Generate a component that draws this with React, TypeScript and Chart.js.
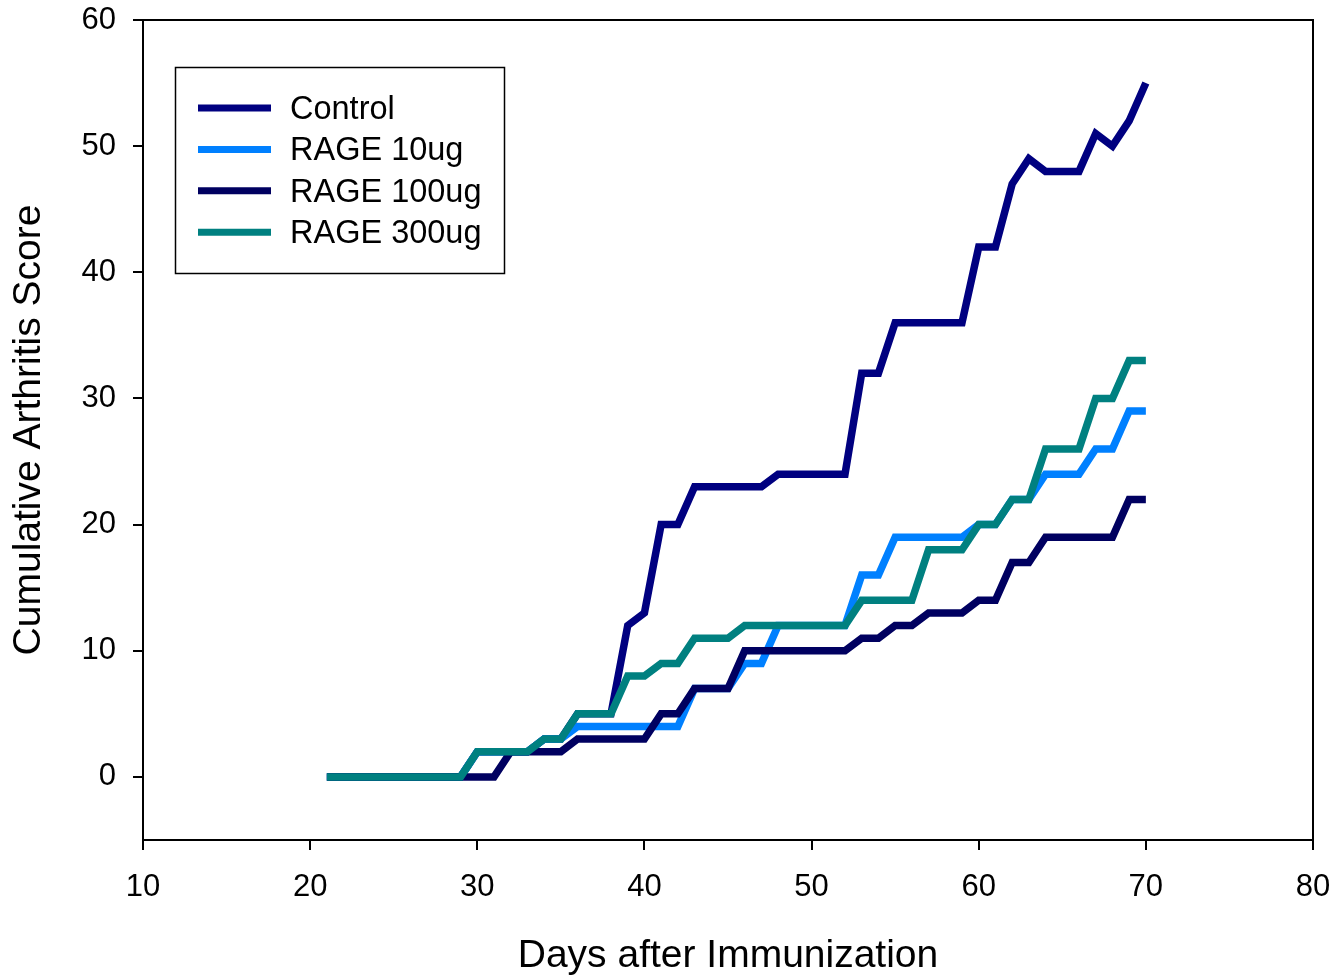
import React, { useEffect, useRef } from "react";
import { Chart, registerables } from "chart.js";

Chart.register(...registerables);

const days = [
  21, 22, 23, 24, 25, 26, 27, 28, 29, 30,
  31, 32, 33, 34, 35, 36, 37, 38, 39, 40,
  41, 42, 43, 44, 45, 46, 47, 48, 49, 50,
  51, 52, 53, 54, 55, 56, 57, 58, 59, 60,
  61, 62, 63, 64, 65, 66, 67, 68, 69, 70,
];

const control = [
  0, 0, 0, 0, 0, 0, 0, 0, 0, 2,
  2, 2, 2, 3, 3, 5, 5, 5, 12, 13,
  20, 20, 23, 23, 23, 23, 23, 24, 24, 24,
  24, 24, 32, 32, 36, 36, 36, 36, 36, 42,
  42, 47, 49, 48, 48, 48, 51, 50, 52, 55,
];

const rage10 = [
  0, 0, 0, 0, 0, 0, 0, 0, 0, 2,
  2, 2, 2, 3, 3, 4, 4, 4, 4, 4,
  4, 4, 7, 7, 7, 9, 9, 12, 12, 12,
  12, 12, 16, 16, 19, 19, 19, 19, 19, 20,
  20, 22, 22, 24, 24, 24, 26, 26, 29, 29,
];

const rage100 = [
  0, 0, 0, 0, 0, 0, 0, 0, 0, 0,
  0, 2, 2, 2, 2, 3, 3, 3, 3, 3,
  5, 5, 7, 7, 7, 10, 10, 10, 10, 10,
  10, 10, 11, 11, 12, 12, 13, 13, 13, 14,
  14, 17, 17, 19, 19, 19, 19, 19, 22, 22,
];

const rage300 = [
  0, 0, 0, 0, 0, 0, 0, 0, 0, 2,
  2, 2, 2, 3, 3, 5, 5, 5, 8, 8,
  9, 9, 11, 11, 11, 12, 12, 12, 12, 12,
  12, 12, 14, 14, 14, 14, 18, 18, 18, 20,
  20, 22, 22, 26, 26, 26, 30, 30, 33, 33,
];

const seriesLabels = ["Control", "RAGE 10ug", "RAGE 100ug", "RAGE 300ug"];
const seriesColors = ["#000080", "#0080FF", "#000060", "#008080"];
const seriesValues = [control, rage10, rage100, rage300];

const xTickValues = [10, 20, 30, 40, 50, 60, 70, 80];
const yTickValues = [0, 10, 20, 30, 40, 50, 60];

const xTitle = "Days after Immunization";
const yTitle = "Cumulative Arthritis Score";

const FONT = "'Liberation Sans', Arial, Helvetica, sans-serif";

const framePlugin = {
  id: "frameLines",
  afterDraw(chart: any) {
    const { ctx } = chart;
    const { left, right, top, bottom } = chart.chartArea;
    ctx.save();
    ctx.strokeStyle = "#000";
    ctx.lineWidth = 2;
    ctx.beginPath();
    ctx.moveTo(left - 1, top);
    ctx.lineTo(right, top);
    ctx.lineTo(right, bottom);
    ctx.stroke();
    ctx.restore();
  },
};

const legendPlugin = {
  id: "boxLegend",
  afterDraw(chart: any) {
    const { ctx } = chart;
    ctx.save();
    ctx.strokeStyle = "#000";
    ctx.lineWidth = 1.5;
    ctx.strokeRect(175.5, 67.5, 329, 206);
    chart.data.datasets.forEach((ds: any, i: number) => {
      const y = 108 + i * 41.4;
      ctx.strokeStyle = ds.borderColor;
      ctx.lineWidth = 7;
      ctx.lineCap = "butt";
      ctx.beginPath();
      ctx.moveTo(198, y);
      ctx.lineTo(271, y);
      ctx.stroke();
      ctx.fillStyle = "#000";
      ctx.font = `32.5px ${FONT}`;
      ctx.textBaseline = "middle";
      ctx.textAlign = "left";
      ctx.fillText(ds.label, 290, y + 2);
    });
    ctx.restore();
  },
};

export default function App() {
  const canvasRef = useRef<HTMLCanvasElement | null>(null);

  useEffect(() => {
    if (!canvasRef.current) return;
    const orders = [4, 3, 2, 1];
    const chart = new Chart(canvasRef.current, {
      type: "line",
      data: {
        datasets: seriesLabels.map((label, i) => ({
          label,
          data: days.map((d, j) => ({ x: d, y: seriesValues[i][j] })),
          borderColor: seriesColors[i],
          backgroundColor: seriesColors[i],
          borderWidth: 7.5,
          pointRadius: 0,
          pointHoverRadius: 0,
          tension: 0,
          fill: false,
          borderJoinStyle: "miter" as const,
          borderCapStyle: "butt" as const,
          order: orders[i],
        })),
      },
      options: {
        responsive: false,
        animation: false,
        events: [],
        layout: { padding: { left: 0, top: 20, right: 23, bottom: 0 } },
        plugins: {
          legend: { display: false },
          tooltip: { enabled: false },
          title: { display: false },
        },
        scales: {
          x: {
            type: "linear",
            min: 10,
            max: 80,
            afterBuildTicks: (s: any) => {
              s.ticks = xTickValues.map((v) => ({ value: v }));
            },
            afterFit: (s: any) => {
              s.height = 136;
              s.paddingLeft = 0;
              s.paddingRight = 0;
            },
            ticks: {
              autoSkip: false,
              maxRotation: 0,
              padding: 19,
              color: "#000",
              font: { family: FONT, size: 31 },
            },
            grid: {
              display: true,
              drawOnChartArea: false,
              drawTicks: true,
              tickLength: 10,
              color: "#000",
              lineWidth: 2,
            },
            border: { display: true, color: "#000", width: 2 },
            title: {
              display: true,
              text: xTitle,
              color: "#000",
              font: { family: FONT, size: 39, lineHeight: 1 },
              padding: { top: 0, bottom: 0 },
            },
          },
          y: {
            type: "linear",
            min: -5,
            max: 60,
            afterBuildTicks: (s: any) => {
              s.ticks = yTickValues.map((v) => ({ value: v }));
            },
            afterFit: (s: any) => {
              s.width = 143;
              s.paddingTop = 0;
              s.paddingBottom = 0;
            },
            ticks: {
              autoSkip: false,
              padding: 17,
              color: "#000",
              font: { family: FONT, size: 31 },
            },
            grid: {
              display: true,
              drawOnChartArea: false,
              drawTicks: true,
              tickLength: 10,
              color: "#000",
              lineWidth: 2,
            },
            border: { display: true, color: "#000", width: 2 },
            title: {
              display: true,
              text: yTitle,
              color: "#000",
              font: { family: FONT, size: 39, lineHeight: 1 },
              padding: { top: 10, bottom: 0 },
            },
          },
        },
      },
      plugins: [framePlugin, legendPlugin],
    });
    return () => chart.destroy();
  }, []);

  return (
    <div style={{ position: "absolute", left: 0, top: 0, width: 1336, height: 976, background: "#fff" }}>
      <canvas ref={canvasRef} width={1336} height={976} style={{ display: "block" }} />
    </div>
  );
}
